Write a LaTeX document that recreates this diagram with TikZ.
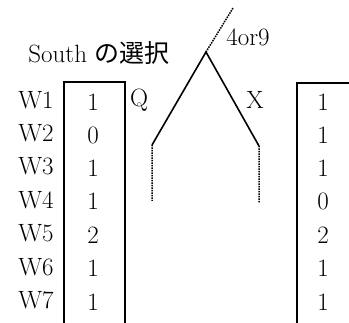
\documentclass[tikz,border=0pt]{standalone}
\usepackage{fontspec}
\newfontfamily\cjk{Noto Sans CJK JP}
\usetikzlibrary{positioning}
\begin{document}
\begin{tikzpicture}[x=1pt,y=-1pt,font=\fontsize{25}{28}\selectfont]
                \useasboundingbox (0,0) rectangle (349,323);
                \coordinate(top)at(206,52);\coordinate(up)at(233,8);
                \coordinate(ql)at(152,145);\coordinate(qe)at(152,201);
                \coordinate(xl)at(259,146);\coordinate(xe)at(259,203);
                \node[] (south) at (99,53) {South {\cjk\fontsize{25}{28}\selectfont の選択}};
                \node[] (nine) at (248,37) {4or9};
                \node[] (Q) at (139,100) {Q};
                \node[] (X) at (255,100) {X};
                \node[] (w1) at (36,100) {W1};
                \node[] (w2) at (36,133) {W2};
                \node[] (w3) at (36,166) {W3};
                \node[] (w4) at (36,200) {W4};
                \node[] (w5) at (36,233) {W5};
                \node[] (w6) at (36,267) {W6};
                \node[] (w7) at (36,300) {W7};
                \node[] (q1) at (93,102) {1};
                \node[] (q2) at (93,135) {0};
                \node[] (q3) at (93,168) {1};
                \node[] (q4) at (93,201) {1};
                \node[] (q5) at (93,235) {2};
                \node[] (q6) at (93,268) {1};
                \node[] (q7) at (93,302) {1};
                \node[] (x1) at (323,102) {1};
                \node[] (x2) at (323,135) {1};
                \node[] (x3) at (323,168) {1};
                \node[] (x4) at (323,201) {0};
                \node[] (x5) at (323,235) {2};
                \node[] (x6) at (323,268) {1};
                \node[] (x7) at (323,302) {1};
                \draw [line width=1.6pt] (ql) -- (top) -- (xl);
                \draw [line width=1.5pt,densely dotted] (top) -- (up) (ql) -- (qe) (xl) -- (xe);
                \draw [line width=1.6pt] (64,323) -- (64,82) -- (125,82) -- (125,323);
                \draw [line width=1.6pt] (297,323) -- (297,83) -- (349,83);
            \end{tikzpicture}
\end{document}
